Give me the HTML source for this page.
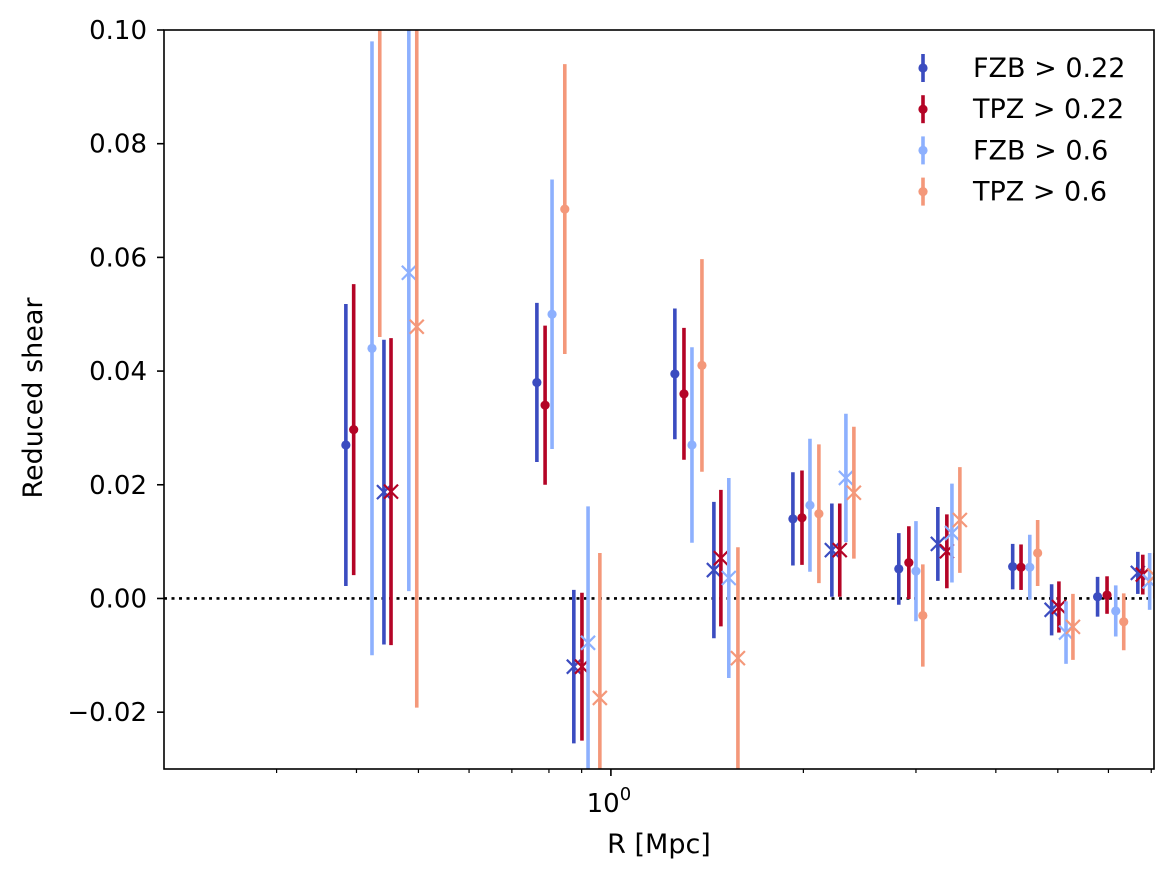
<!DOCTYPE html>
<html><head><meta charset="utf-8">
<style>
html,body{margin:0;padding:0;background:#fff;}
svg{display:block;font-family:"DejaVu Sans","Liberation Sans",sans-serif;}
</style></head>
<body>
<svg id="chart" width="1174" height="878" viewBox="0 0 1174 878" xmlns="http://www.w3.org/2000/svg">
<defs><clipPath id="plotclip"><rect x="164" y="30" width="990" height="739"/></clipPath></defs>
<rect x="0" y="0" width="1174" height="878" fill="#fff"/>
<g id="marks" clip-path="url(#plotclip)"></g>
<g id="axes"></g>
<g id="legend"></g>
</svg>
<script>
// ---- data ----
const seriesNames = ["FZB > 0.22","TPZ > 0.22","FZB > 0.6","TPZ > 0.6"];
const seriesColors = ["#3b4cc0","#b40426","#8db0fe","#f4987a"];
// dots
const rFzb22 = [0.385,0.766,1.259,1.926,2.82,4.25,5.77];
const gFzb22 = [0.027,0.038,0.0395,0.014,0.0052,0.0056,0.0003];
const eFzb22 = [0.0248,0.014,0.0115,0.0082,0.0063,0.004,0.0035];
const rTpz22 = [0.396,0.789,1.301,1.990,2.924,4.38,5.97];
const gTpz22 = [0.0297,0.034,0.036,0.0142,0.0063,0.0055,0.0006];
const eTpz22 = [0.0256,0.014,0.0116,0.0083,0.0064,0.004,0.0033];
const rFzb6 = [0.423,0.809,1.339,2.048,3.00,4.52,6.16];
const gFzb6 = [0.044,0.050,0.027,0.0164,0.0048,0.0055,-0.0022];
const eFzb6 = [0.054,0.0237,0.0172,0.0117,0.0088,0.0057,0.0045];
const rTpz6 = [0.435,0.847,1.388,2.115,3.075,4.65,6.34];
const gTpz6 = [0.115,0.0685,0.041,0.0149,-0.003,0.008,-0.0041];
const eTpz6 = [0.069,0.0255,0.0187,0.0122,0.009,0.0058,0.005];
// crosses
const rFzb22x = [0.4416,0.875,1.449,2.216,3.246,4.89,6.67];
const gFzb22x = [0.0187,-0.012,0.005,0.0085,0.0096,-0.002,0.0045];
const eFzb22x = [0.0268,0.0135,0.012,0.0082,0.0065,0.0045,0.0037];
const rTpz22x = [0.453,0.901,1.486,2.280,3.353,5.02,6.79];
const gTpz22x = [0.0188,-0.012,0.0071,0.0085,0.0083,-0.0015,0.0042];
const eTpz22x = [0.027,0.013,0.012,0.0082,0.0065,0.0045,0.0035];
const rFzb6x = [0.483,0.921,1.529,2.331,3.415,5.15,6.96];
const gFzb6x = [0.0573,-0.0078,0.0036,0.0212,0.0115,-0.006,0.003];
const eFzb6x = [0.056,0.024,0.0176,0.0113,0.0087,0.0055,0.005];
const rTpz6x = [0.497,0.961,1.580,2.399,3.514,5.28,7.09];
const gTpz6x = [0.0478,-0.0175,-0.0105,0.0186,0.0138,-0.005,0.004];
const eTpz6x = [0.067,0.0255,0.0195,0.0116,0.0093,0.0058,0.004];
const yTicks = [-0.02,0,0.02,0.04,0.06,0.08,0.10];
const yTickLabels = ["\u22120.02","0.00","0.02","0.04","0.06","0.08","0.10"];
const xMinorTicks = [0.3,0.4,0.5,0.6,0.7,0.8,0.9,2,3,4,5,6,7];

// ---- axes functions ----
const L=164,R=1154,T=30,B=769;
const xMin=0.2,xMax=7.07,yMin=-0.03,yMax=0.10;
const NS="http://www.w3.org/2000/svg";
function X(v){return L+(Math.log10(v)-Math.log10(xMin))/(Math.log10(xMax)-Math.log10(xMin))*(R-L);}
function Y(v){return B-(v-yMin)/(yMax-yMin)*(B-T);}
function el(tag,attrs,parent){const e=document.createElementNS(NS,tag);for(const k in attrs)e.setAttribute(k,attrs[k]);parent.appendChild(e);return e;}
const marks=document.getElementById('marks'),axes=document.getElementById('axes'),legend=document.getElementById('legend');

const zl=el('line',{x1:L,x2:R,y1:Y(0),y2:Y(0),stroke:'#000','stroke-width':2.6,'stroke-dasharray':'3,4.5'},marks);



function drawSeries(rs,gs,es,color,kind,name){
  const g=el('g',{},marks);
  
  
  rs.forEach((r,i)=>{
    const x=X(r);
    const eb=el('line',{x1:x,x2:x,y1:Y(gs[i]-es[i]),y2:Y(gs[i]+es[i]),stroke:color,'stroke-width':3.6},g);
    
    
    const y=Y(gs[i]);
    if(kind==='dot'){
      const c=el('circle',{cx:x,cy:y,r:4.6,fill:color},g);
      
      
    }else{
      const s=7;
      const p=el('path',{d:`M${x-s},${y-s}L${x+s},${y+s}M${x-s},${y+s}L${x+s},${y-s}`,stroke:color,'stroke-width':2.2,fill:'none'},g);
      
      
    }
  });
}
drawSeries(rFzb22,gFzb22,eFzb22,seriesColors[0],'dot','fzb-022-dots');
drawSeries(rTpz22,gTpz22,eTpz22,seriesColors[1],'dot','tpz-022-dots');
drawSeries(rFzb6,gFzb6,eFzb6,seriesColors[2],'dot','fzb-06-dots');
drawSeries(rTpz6,gTpz6,eTpz6,seriesColors[3],'dot','tpz-06-dots');
drawSeries(rFzb22x,gFzb22x,eFzb22x,seriesColors[0],'cross','fzb-022-crosses');
drawSeries(rTpz22x,gTpz22x,eTpz22x,seriesColors[1],'cross','tpz-022-crosses');
drawSeries(rFzb6x,gFzb6x,eFzb6x,seriesColors[2],'cross','fzb-06-crosses');
drawSeries(rTpz6x,gTpz6x,eTpz6x,seriesColors[3],'cross','tpz-06-crosses');

const fr=el('rect',{x:L,y:T,width:R-L,height:B-T,fill:'none',stroke:'#000','stroke-width':1.6},axes);


yTicks.forEach((v,i)=>{
  const y=Y(v);
  const t=el('line',{x1:L-7,x2:L,y1:y,y2:y,stroke:'#000','stroke-width':1.6},axes);
  
  
  const tx=el('text',{x:L-17,y:y+9,'text-anchor':'end','font-size':26,fill:'#000'},axes);
  tx.textContent=yTickLabels[i];
  
  
});
const mj=el('line',{x1:X(1),x2:X(1),y1:B,y2:B+7,stroke:'#000','stroke-width':1.6},axes);


xMinorTicks.forEach(v=>{
  const x=X(v);
  const t=el('line',{x1:x,x2:x,y1:B,y2:B+4,stroke:'#000','stroke-width':1.2},axes);
  
  
});
const xl=el('text',{x:X(1)-2,y:812,'text-anchor':'middle','font-size':26,fill:'#000'},axes);
xl.innerHTML='10<tspan dy="-12" font-size="18">0</tspan>';


const xt=el('text',{x:659,y:853,'text-anchor':'middle','font-size':27,fill:'#000'},axes);
xt.textContent='R [Mpc]';


const yt=el('text',{x:0,y:0,'text-anchor':'middle','font-size':27,fill:'#000',transform:'translate(42,398) rotate(-90)'},axes);
yt.textContent='Reduced shear';



seriesNames.forEach((n,i)=>{
  const y=68+i*41.2;
  const g=el('g',{},legend);
  
  
  el('line',{x1:923,x2:923,y1:y-14,y2:y+14,stroke:seriesColors[i],'stroke-width':3.6},g);
  el('circle',{cx:923,cy:y,r:4.6,fill:seriesColors[i]},g);
  const t=el('text',{x:973,y:y+9,'font-size':27,fill:'#000'},g);
  t.textContent=n;
});
</script>
</body></html>
